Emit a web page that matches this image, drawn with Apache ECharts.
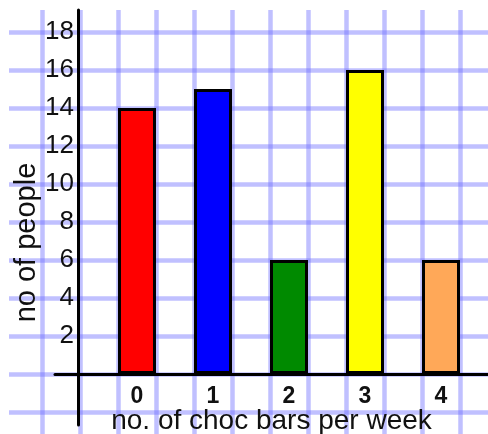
<!DOCTYPE html>
<html><head><meta charset="utf-8">
<script src="https://cdn.jsdelivr.net/npm/echarts@6/dist/echarts.min.js"></script>
<style>html,body{margin:0;padding:0;background:#fff}#c{width:488px;height:434px}</style>
</head><body><div id="c"></div>
<script>
const categories = ['0', '1', '2', '3', '4'];
const values = [14, 15, 6, 16, 6];
const barColors = ['#ff0000', '#0000ff', '#008a00', '#ffff00', '#ffa858'];
const yTicks = [2, 4, 6, 8, 10, 12, 14, 16, 18];
const xTitle = 'no. of choc bars per week';
const yTitle = 'no of people';

const FONT = 'Liberation Sans, Arial, sans-serif';
const paper = 'rgba(110,110,255,0.43)';
const hidden = {axisLine:{show:false}, axisTick:{show:false}, axisLabel:{show:false}, splitLine:{show:false}};
const isInt = v => Math.abs(v - Math.round(v)) < 1e-6;

const chart = echarts.init(document.getElementById('c'), null, {renderer:'canvas'});
chart.setOption({
  animation: false,
  grid: [
    {left: 42, right: -10, top: 10, bottom: 0, outerBoundsMode: 'none'},
    {left: 9, right: 0, top: 32, bottom: 22, outerBoundsMode: 'none'},
    {left: 78, right: 0, top: 10, bottom: 9, outerBoundsMode: 'none'},
    {left: 55, right: 0, top: 10, bottom: 60, outerBoundsMode: 'none'}
  ],
  xAxis: [
    {gridIndex: 0, type: 'value', min: 0, max: 12, interval: 1,
     axisLine:{show:false}, axisTick:{show:false}, axisLabel:{show:false},
     splitLine:{show:true, lineStyle:{color: paper, width: 4.5}}},
    Object.assign({gridIndex: 1, type: 'value', min: 0, max: 1}, hidden),
    Object.assign({gridIndex: 2, type: 'value', min: 0, max: 1}, hidden),
    {gridIndex: 3, type: 'value', min: -82/76, max: 351/76, minInterval: 1, maxInterval: 1,
     axisLine:{show:true, onZero:false, lineStyle:{color:'#000', width:3}},
     axisTick:{show:false}, splitLine:{show:false},
     axisLabel:{fontSize: 23, fontWeight: 'bold', color: '#111', margin: 11, fontFamily: FONT,
       formatter: v => { const i = Math.round(v); return (isInt(v) && i >= 0 && i < categories.length) ? categories[i] : ''; }},
     name: xTitle, nameLocation: 'middle', nameGap: 33, nameMoveOverlap: false,
     nameTextStyle:{fontSize: 28, color: '#111', fontFamily: FONT}}
  ],
  yAxis: [
    Object.assign({gridIndex: 0, type: 'value', min: 0, max: 1}, hidden),
    {gridIndex: 1, type: 'value', min: 0, max: 10, interval: 1,
     axisLine:{show:false}, axisTick:{show:false}, axisLabel:{show:false},
     splitLine:{show:true, lineStyle:{color: paper, width: 4.5}}},
    {gridIndex: 2, type: 'value', min: 0, max: 1, position: 'left',
     axisLine:{show:true, onZero:false, lineStyle:{color:'#000', width:3}},
     axisTick:{show:false}, axisLabel:{show:false}, splitLine:{show:false},
     name: yTitle, nameLocation: 'middle', nameGap: 37, nameRotate: 90, nameMoveOverlap: false,
     nameTextStyle:{fontSize: 29, color: '#111', fontFamily: FONT, padding: [0, 50, 0, 0]}},
    {gridIndex: 3, type: 'value', min: 0, max: 364/19, minInterval: 2, maxInterval: 2,
     position: 'left', offset: -23,
     axisLine:{show:false}, axisTick:{show:false}, splitLine:{show:false},
     axisLabel:{fontSize: 26, color: '#111', margin: 4, fontFamily: FONT,
       formatter: v => (isInt(v) && yTicks.includes(Math.round(v))) ? String(Math.round(v)) : ''}}
  ],
  series: [{
    type: 'bar', xAxisIndex: 3, yAxisIndex: 3, barWidth: 38,
    itemStyle: {borderColor: '#000', borderWidth: 3},
    data: values.map((v, i) => ({value: [i, v], itemStyle: {color: barColors[i]}}))
  }]
});
</script></body></html>
